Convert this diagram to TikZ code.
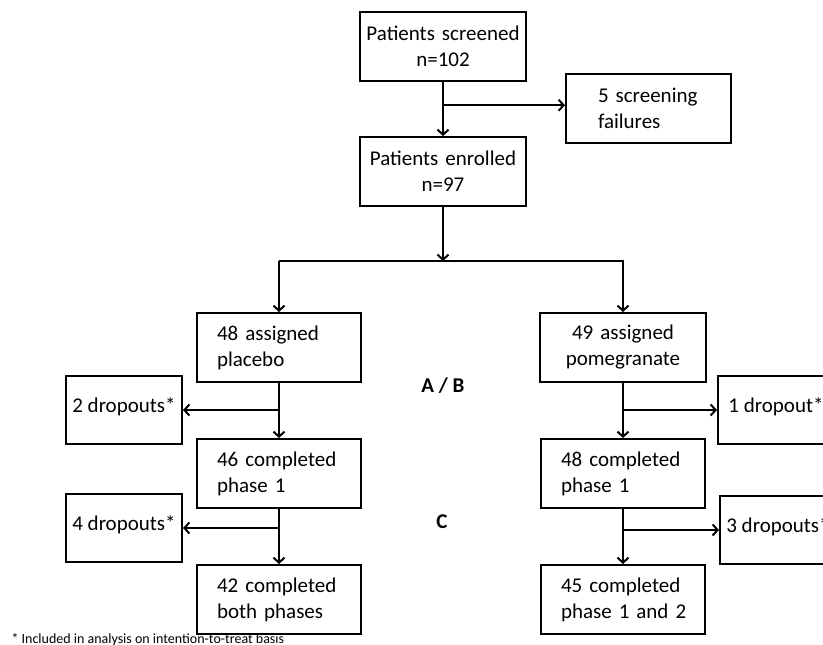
\documentclass[tikz,border=0pt]{standalone}
\usepackage{fontspec}
\setmainfont{Carlito}
\usetikzlibrary{positioning, arrows.meta, calc}
\newcommand{\boxfont}{\fontsize{21}{26}\selectfont}
\tikzset{
  box/.style={
    draw, line width=2pt, minimum height=69pt,
    inner xsep=20pt, text width=124pt, align=left
  },
  mid box/.style={box, inner xsep=6pt, text width=154pt, align=center},
  drop box/.style={draw, line width=2pt, minimum height=68pt, minimum width=116pt,
    inner xsep=5pt, text height=15pt, text depth=11pt},
  flow/.style={draw, line width=2pt, -{Straight Barb[length=5pt, width=11pt]}},
  phase/.style={font=\boxfont\bfseries},
}
\begin{document}
\begin{tikzpicture}[x=1pt, y=1pt, node distance=55pt, font=\boxfont]
  \useasboundingbox (0,0) rectangle (823,-645);
  \clip (0,0) rectangle (823,-645);

  \node[mid box] (screened) at (443,-46.5) {Patients screened\\n=102};
  \node[mid box, below=54pt of screened] (enrolled) {Patients enrolled\\n=97};
  \node[box, inner xsep=32pt, text width=101pt] (failures) at (648.5,-108.5) {5 screening\\failures};

  \node[box] (placebo) at (279,-347.5) {48 assigned\\placebo};
  \node[mid box, right=177pt of placebo] (pomegranate) {49 assigned\\pomegranate};
  \node[box, below=of placebo] (complA) {46 completed\\phase 1};
  \node[box, below=of complA] (bothA) {42 completed\\both phases};
  \node[box, below=of pomegranate] (complB) {48 completed\\phase 1};
  \node[box, below=of complB] (bothB) {45 completed\\\mbox{phase 1 and 2}};

  \node[drop box] (dropA1) at (124,-410) {2 dropouts*};
  \node[drop box] (dropA2) at (124,-528) {4 dropouts*};
  \node[drop box, anchor=west] (dropB1) at (717,-410) {1 dropout*\hspace{12pt}};
  \node[drop box, anchor=west] (dropB2) at (719,-530) {3 dropouts*};

  \node[phase] (ab) at (443,-386) {A / B};
  \node[phase] (c) at (442,-522) {C};
  \node[anchor=base west, font=\fontsize{14}{17}\selectfont] (note) at (8,-643)
    {* Included in analysis on intention-to-treat basis};

  % screening and randomisation
  \coordinate (fail split) at ($(screened.south)!0.43!(enrolled.north)$);
  \coordinate (arm split) at ($(enrolled.south)+(0,-54)$);
  \draw[flow] (screened) -- (enrolled);
  \draw[flow] (fail split) -- (fail split -| failures.west);
  \draw[flow] (enrolled) -- (arm split);
  \draw[flow] (arm split -| placebo) -- (placebo);
  \draw[flow] (arm split -| placebo) -| (pomegranate);

  % placebo arm
  \draw[flow] (placebo) -- (complA);
  \draw[flow] (placebo.south |- dropA1.east) -- (dropA1.east);
  \draw[flow] (complA) -- (bothA);
  \draw[flow] (complA.south |- dropA2.east) -- (dropA2.east);

  % pomegranate arm
  \draw[flow] (pomegranate) -- (complB);
  \draw[flow] (pomegranate.south |- dropB1.west) -- (dropB1.west);
  \draw[flow] (complB) -- (bothB);
  \draw[flow] (complB.south |- dropB2.west) -- (dropB2.west);
\end{tikzpicture}
\end{document}
